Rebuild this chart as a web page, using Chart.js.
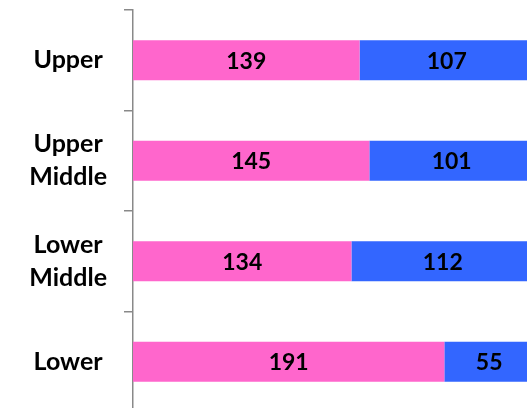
<!DOCTYPE html>
<html>
<head>
<meta charset="utf-8">
<script src="https://cdn.jsdelivr.net/npm/chart.js@4"></script>
<style>
  html, body { margin: 0; padding: 0; background: #fff; }
  #wrap { width: 527px; height: 408px; overflow: hidden; position: relative; }
  canvas { position: absolute; left: 0; top: 0; }
</style>
</head>
<body>
<div id="wrap"><canvas id="chart" width="534" height="420"></canvas></div>
<script>
const categories = [["Upper"], ["Upper", "Middle"], ["Lower", "Middle"], ["Lower"]];
const pinkValues = [139, 145, 134, 191];
const blueValues = [107, 101, 112, 55];
const xMax = 246;

const FONT = "Lato";

// draw the numbers in the middle of each bar piece
const valueLabels = {
  id: "valueLabels",
  afterDatasetsDraw(chart) {
    const ctx = chart.ctx;
    ctx.save();
    ctx.font = "bold 23px " + FONT;
    ctx.fillStyle = "#000";
    ctx.textAlign = "center";
    ctx.textBaseline = "middle";
    chart.data.datasets.forEach((ds, i) => {
      chart.getDatasetMeta(i).data.forEach((bar, j) => {
        const p = bar.getProps(["x", "y", "base"], true);
        ctx.fillText(ds.data[j], (p.base + p.x) / 2, p.y + 1);
      });
    });
    ctx.restore();
  }
};

const ctx = document.getElementById("chart").getContext("2d");
const myChart = new Chart(ctx, {
  type: "bar",
  data: {
    labels: categories,
    datasets: [
      {
        data: pinkValues,
        backgroundColor: "#FF66CC",
        barPercentage: 0.4,
        categoryPercentage: 1,
      },
      {
        data: blueValues,
        backgroundColor: "#3366FF",
        barPercentage: 0.4,
        categoryPercentage: 1,
      },
    ],
  },
  options: {
    indexAxis: "y",
    responsive: false,
    animation: false,
    layout: { padding: { top: 10, bottom: 8, left: 0, right: 0 } },
    plugins: { legend: { display: false }, tooltip: { enabled: false } },
    scales: {
      x: { stacked: true, display: false, min: 0, max: xMax },
      y: {
        stacked: true,
        afterFit(scale) {
          scale.width = 133;
          scale.paddingTop = 0;
          scale.paddingBottom = 0;
        },
        border: { color: "#898989", width: 1.5 },
        grid: {
          offset: true,
          drawOnChartArea: false,
          tickLength: 9,
          color: "#898989",
          lineWidth: 1.5,
        },
        ticks: {
          crossAlign: "center",
          padding: 17,
          color: "#000",
          font: { family: FONT, size: 25, weight: "bold", lineHeight: 1.32 },
        },
      },
    },
  },
  plugins: [valueLabels],
});
</script>
</body>
</html>
